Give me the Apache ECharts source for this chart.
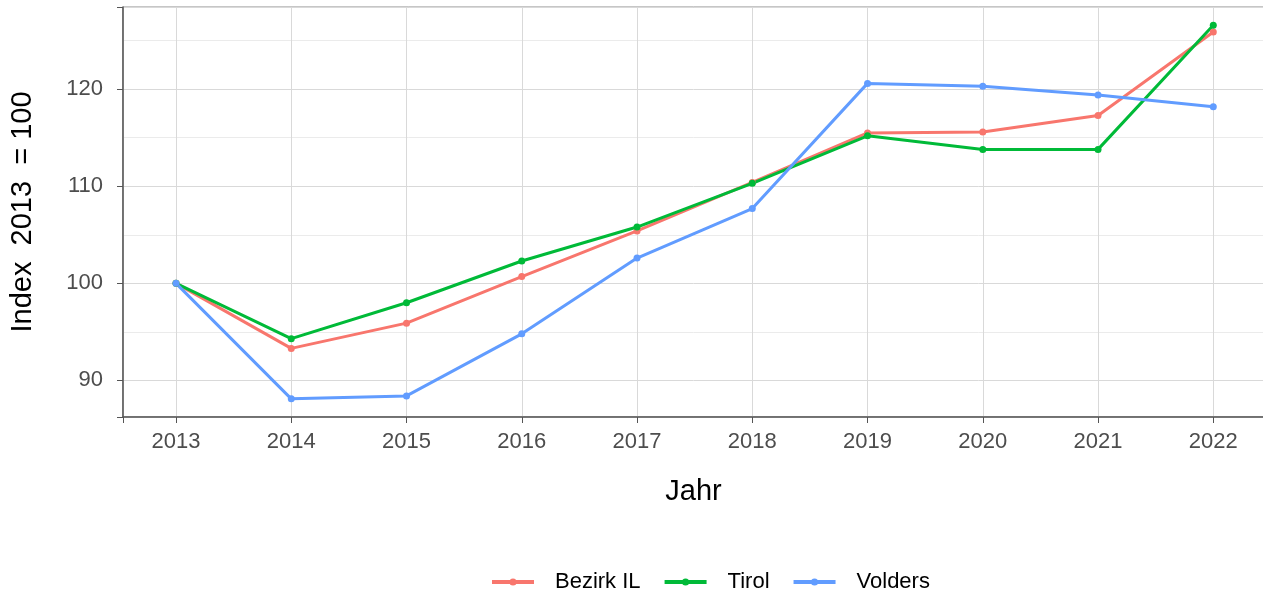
<!DOCTYPE html>
<html>
<head>
<meta charset="utf-8">
<script src="https://cdn.jsdelivr.net/npm/echarts@6/dist/echarts.min.js"></script>
<style>
  html, body { margin: 0; padding: 0; background: #fff; overflow: hidden; }
  #chart { width: 1263px; height: 596px; }
</style>
</head>
<body>
<div id="chart"></div>
<script>
// Jahre und Indexwerte (2013 = 100)
const years = [2013, 2014, 2015, 2016, 2017, 2018, 2019, 2020, 2021, 2022]
const bezirkIL = [100, 93.3, 95.9, 100.7, 105.4, 110.4, 115.5, 115.6, 117.3, 125.9]
const tirol = [100, 94.3, 98.0, 102.3, 105.8, 110.3, 115.2, 113.8, 113.8, 126.6]
const volders = [100, 88.1, 88.4, 94.8, 102.6, 107.7, 120.6, 120.3, 119.4, 118.2]

const seriesNames = ['Bezirk IL', 'Tirol', 'Volders']
const seriesColors = ['#F8766D', '#00BA38', '#619CFF']
const seriesValues = [bezirkIL, tirol, volders]

const font = 'Liberation Sans, Arial, sans-serif'

const chart = echarts.init(document.getElementById('chart'))

const mkSeries = (name, i) => ({
  name,
  type: 'line',
  data: years.map((y, k) => [y, seriesValues[i][k]]),
  symbol: 'circle',
  symbolSize: 7,
  lineStyle: { width: 3, color: seriesColors[i] },
  itemStyle: { color: seriesColors[i] },
  emphasis: { disabled: true }
})

chart.setOption({
  animation: false,
  textStyle: { fontFamily: font },
  grid: {
    left: 123, top: 7, width: 1141, height: 410,
    outerBoundsMode: 'none',
    containLabel: false,
    show: true, borderColor: '#8c8c8c', borderWidth: 1, backgroundColor: 'transparent'
  },
  legend: {
    data: seriesNames,
    top: 566,
    left: 485,
    itemWidth: 42,
    itemHeight: 9,
    itemGap: 22,
    lineStyle: { width: 4 },
    textStyle: { fontSize: 22, color: '#000', fontFamily: font, padding: [0, 0, 0, 16] }
  },
  xAxis: {
    type: 'value',
    min: 2012.54,
    max: 2022.44,
    minInterval: 1,
    maxInterval: 1,
    name: 'Jahr',
    nameLocation: 'middle',
    nameGap: 60,
    nameTextStyle: { fontSize: 29, color: '#000', fontFamily: font },
    axisLine: { lineStyle: { color: '#555', width: 1.5 } },
    axisTick: { length: 6, lineStyle: { color: '#555' } },
    axisLabel: {
      fontSize: 22, color: '#4d4d4d', margin: 14,
      formatter: v => (Number.isInteger(v) ? String(v) : '')
    },
    splitLine: { show: true, lineStyle: { color: '#d9d9d9', width: 1 } }
  },
  yAxis: {
    type: 'value',
    min: 86.23,
    max: 128.47,
    name: 'Index  2013  = 100',
    nameLocation: 'middle',
    nameGap: 86,
    nameTextStyle: { fontSize: 29, color: '#000', fontFamily: font },
    axisLine: { show: true, lineStyle: { color: '#555', width: 1.5 } },
    axisTick: { show: true, length: 6, lineStyle: { color: '#555' } },
    axisLabel: {
      fontSize: 22, color: '#4d4d4d', margin: 20,
      formatter: v => (v % 10 === 0 ? String(v) : '')
    },
    splitLine: { show: true, lineStyle: { color: '#d9d9d9', width: 1 } },
    minorTick: { show: false, splitNumber: 2 },
    minorSplitLine: { show: true, lineStyle: { color: '#ebebeb', width: 1 } }
  },
  series: seriesNames.map(mkSeries)
})
</script>
</body>
</html>
